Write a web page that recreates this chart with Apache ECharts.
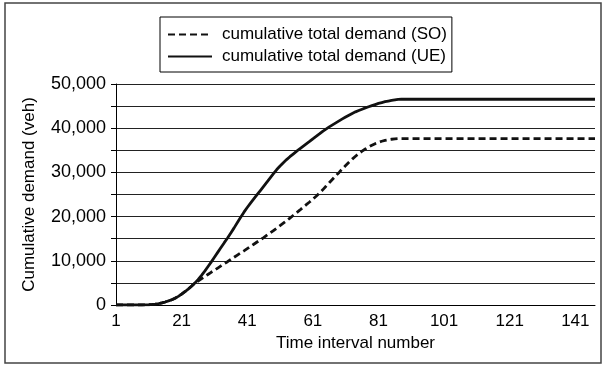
<!DOCTYPE html>
<html>
<head>
<meta charset="utf-8">
<script src="https://cdn.jsdelivr.net/npm/echarts@6/dist/echarts.min.js"></script>
<style>
html, body { margin: 0; padding: 0; background: #fff; }
#main { width: 607px; height: 367px; }
</style>
</head>
<body>
<div id="main"></div>
<script>
// time intervals 1..147
var intervals = [];
for (var k = 1; k <= 147; k++) intervals.push(String(k));

// cumulative total demand, user equilibrium (veh)
var demandUE = [
	0, 0, 0, 0, 0, 0, 0, 0, 0, 20,
	60, 130, 220, 330, 480, 680, 920, 1200, 1550, 1950,
	2450, 3000, 3600, 4250, 4950, 5750, 6650, 7600, 8650, 9700,
	10800, 11900, 13000, 14100, 15150, 16300, 17450, 18650, 19850, 21000,
	22050, 23050, 24000, 24950, 25900, 26850, 27800, 28750, 29700, 30650,
	31450, 32200, 32900, 33550, 34150, 34750, 35350, 35900, 36450, 37000,
	37600, 38150, 38700, 39300, 39800, 40300, 40750, 41200, 41650, 42100,
	42550, 42950, 43350, 43700, 44000, 44300, 44600, 44850, 45100, 45350,
	45600, 45800, 46000, 46150, 46300, 46400, 46500, 46550, 46550, 46550,
	46550, 46550, 46550, 46550, 46550, 46550, 46550, 46550, 46550, 46550,
	46550, 46550, 46550, 46550, 46550, 46550, 46550, 46550, 46550, 46550,
	46550, 46550, 46550, 46550, 46550, 46550, 46550, 46550, 46550, 46550,
	46550, 46550, 46550, 46550, 46550, 46550, 46550, 46550, 46550, 46550,
	46550, 46550, 46550, 46550, 46550, 46550, 46550, 46550, 46550, 46550,
	46550, 46550, 46550, 46550, 46550, 46550, 46550
];

// cumulative total demand, system optimum (veh)
var demandSO = [
	0, 0, 0, 0, 0, 0, 0, 0, 0, 20,
	60, 130, 220, 330, 480, 680, 920, 1200, 1550, 1950,
	2450, 3000, 3600, 4250, 4950, 5400, 5900, 6400, 6900, 7400,
	7850, 8350, 8850, 9350, 9800, 10300, 10800, 11300, 11800, 12250,
	12750, 13250, 13750, 14250, 14750, 15250, 15800, 16300, 16850, 17400,
	17950, 18500, 19050, 19650, 20250, 20850, 21450, 22100, 22700, 23300,
	23950, 24600, 25300, 26050, 26850, 27650, 28450, 29250, 30000, 30800,
	31550, 32300, 33000, 33650, 34250, 34800, 35300, 35750, 36150, 36500,
	36800, 37050, 37250, 37400, 37500, 37580, 37630, 37650, 37650, 37650,
	37650, 37650, 37650, 37650, 37650, 37650, 37650, 37650, 37650, 37650,
	37650, 37650, 37650, 37650, 37650, 37650, 37650, 37650, 37650, 37650,
	37650, 37650, 37650, 37650, 37650, 37650, 37650, 37650, 37650, 37650,
	37650, 37650, 37650, 37650, 37650, 37650, 37650, 37650, 37650, 37650,
	37650, 37650, 37650, 37650, 37650, 37650, 37650, 37650, 37650, 37650,
	37650, 37650, 37650, 37650, 37650, 37650, 37650
];

var fontName = 'Liberation Sans';

var chart = echarts.init(document.getElementById('main'));
var option = {
	backgroundColor: '#fff',
	animation: false,
	textStyle: { fontFamily: fontName, color: '#000' },
	graphic: [{
		type: 'rect',
		shape: { x: 5, y: 3, width: 596, height: 360 },
		style: { fill: null, stroke: '#444', lineWidth: 1.5 },
		z: 0
	}],
	legend: {
		orient: 'vertical',
		left: 160,
		top: 17,
		padding: [9, 5, 7, 7],
		itemGap: 5,
		itemWidth: 44,
		itemHeight: 14,
		borderColor: '#000',
		borderWidth: 1,
		itemStyle: { opacity: 0 },
		textStyle: { fontSize: 17, fontFamily: fontName, color: '#000', padding: [0, 0, 0, 5] },
		data: ['cumulative total demand (SO)', 'cumulative total demand (UE)']
	},
	grid: { left: 116, right: 12, top: 84, bottom: 62 },
	xAxis: {
		type: 'category',
		boundaryGap: false,
		data: intervals,
		name: 'Time interval number',
		nameLocation: 'middle',
		nameGap: 28,
		nameTextStyle: { fontSize: 17, fontFamily: fontName, color: '#000' },
		axisLine: { lineStyle: { color: '#000', width: 1 } },
		axisTick: { show: false },
		axisLabel: { interval: 19, fontSize: 17, color: '#000', margin: 8 },
		splitLine: { show: false }
	},
	yAxis: {
		type: 'value',
		min: 0,
		max: 50000,
		interval: 5000,
		name: 'Cumulative demand (veh)',
		nameLocation: 'middle',
		nameGap: 78,
		nameTextStyle: { fontSize: 17, fontFamily: fontName, color: '#000' },
		axisLine: { show: true, lineStyle: { color: '#000', width: 1 } },
		axisTick: { show: true, length: 5, lineStyle: { color: '#000' } },
		axisLabel: {
			fontSize: 18, color: '#000', margin: 10,
			formatter: function (v) {
				if (v % 10000 !== 0) return '';
				return v.toString().replace(/\B(?=(\d{3})+(?!\d))/g, ',');
			}
		},
		splitLine: { show: true, lineStyle: { color: '#222', width: 1 } }
	},
	series: [
		{
			name: 'cumulative total demand (SO)',
			type: 'line',
			data: demandSO,
			symbol: 'none',
			itemStyle: { color: '#111' },
			lineStyle: { color: '#111', width: 2.8, type: [7, 4] },
			z: 3
		},
		{
			name: 'cumulative total demand (UE)',
			type: 'line',
			data: demandUE,
			symbol: 'none',
			itemStyle: { color: '#111' },
			lineStyle: { color: '#111', width: 2.8 },
			z: 4
		}
	]
};
chart.setOption(option);
</script>
</body>
</html>
